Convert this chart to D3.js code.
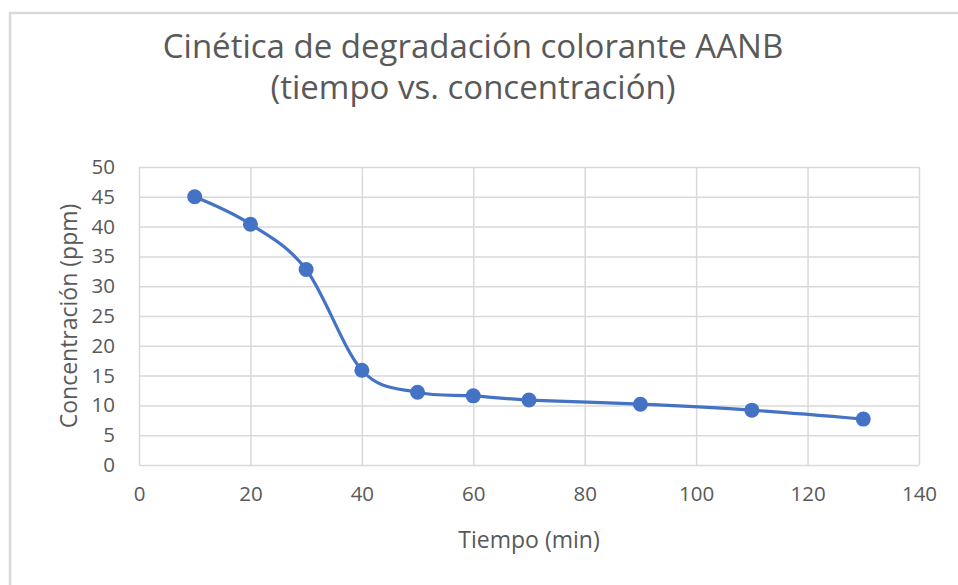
<!DOCTYPE html>
<html>
<head>
<meta charset="utf-8">
<script src="https://cdn.jsdelivr.net/npm/d3@7"></script>
<style>
  html, body { margin: 0; padding: 0; background: #fff; }
  svg { display: block; }
  text { font-family: "Open Sans", "Noto Sans", sans-serif; fill: #595959; }
</style>
</head>
<body>
<svg id="chart" width="958" height="585"></svg>
<script>
// Degradation kinetics: time (min) vs. concentration (ppm)
const tiempo = [10, 20, 30, 40, 50, 60, 70, 90, 110, 130];
const concentracion = [45.0, 40.4, 32.8, 15.9, 12.2, 11.6, 10.9, 10.2, 9.2, 7.7];
const xTicks = [0, 20, 40, 60, 80, 100, 120, 140];
const yTicks = [0, 5, 10, 15, 20, 25, 30, 35, 40, 45, 50];
const titleLines = ["Cinética de degradación colorante AANB", "(tiempo vs. concentración)"];
const xLabel = "Tiempo (min)";
const yLabel = "Concentración (ppm)";

const svg = d3.select("#chart");
const W = 958, H = 585;
const plot = { left: 139, right: 919, top: 167, bottom: 465 };
const blue = "#4472c4";
const gridColor = "#d9d9d9";
const font = "'Open Sans', 'Noto Sans', sans-serif";

// Chart frame
svg.append("rect")
  .attr("x", 10).attr("y", 13)
  .attr("width", W).attr("height", H)
  .attr("fill", "#fff")
  .attr("stroke", gridColor).attr("stroke-width", 2.5);

const x = d3.scaleLinear().domain([0, 140]).range([plot.left, plot.right]);
const y = d3.scaleLinear().domain([0, 50]).range([plot.bottom, plot.top]);

// Gridlines
svg.append("g")
  .attr("transform", `translate(0,${plot.bottom})`)
  .call(d3.axisBottom(x).tickValues(xTicks).tickSize(-(plot.bottom - plot.top)).tickFormat(""))
  .call(g => g.select(".domain").remove())
  .call(g => g.selectAll("line").attr("stroke", gridColor).attr("stroke-width", 1.5));

svg.append("g")
  .attr("transform", `translate(${plot.left},0)`)
  .call(d3.axisLeft(y).tickValues(yTicks).tickSize(-(plot.right - plot.left)).tickFormat(""))
  .call(g => g.select(".domain").remove())
  .call(g => g.selectAll("line").attr("stroke", gridColor).attr("stroke-width", 1.5));

// Tick labels
svg.append("g")
  .attr("transform", `translate(0,${plot.bottom})`)
  .call(d3.axisBottom(x).tickValues(xTicks).tickSize(0).tickPadding(21))
  .call(g => g.select(".domain").remove())
  .call(g => g.selectAll("text").attr("font-size", 20.5).style("font-family", font).attr("fill", "#595959"));

svg.append("g")
  .attr("transform", `translate(${plot.left},0)`)
  .call(d3.axisLeft(y).tickValues(yTicks).tickSize(0).tickPadding(24))
  .call(g => g.select(".domain").remove())
  .call(g => g.selectAll("text").attr("font-size", 20.5).style("font-family", font).attr("fill", "#595959").attr("text-anchor", "end"));

// Axis titles
svg.append("text")
  .attr("x", 529)
  .attr("y", 548)
  .attr("text-anchor", "middle")
  .attr("font-size", 23)
  .text(xLabel);

svg.append("text")
  .attr("transform", `translate(77,${(plot.top + plot.bottom) / 2}) rotate(-90)`)
  .attr("text-anchor", "middle")
  .attr("font-size", 23)
  .text(yLabel);

// Title
svg.append("g").selectAll("text")
  .data(titleLines)
  .join("text")
  .attr("x", 473)
  .attr("y", (d, i) => 58 + i * 41)
  .attr("text-anchor", "middle")
  .attr("font-size", 33)
  .text(d => d);

// Smoothed series line
const pts = tiempo.map((t, i) => [t, concentracion[i]]);
svg.append("path")
  .datum(pts)
  .attr("fill", "none")
  .attr("stroke", blue)
  .attr("stroke-width", 3.2)
  .attr("d", d3.line().x(d => x(d[0])).y(d => y(d[1])).curve(d3.curveCardinal.tension(0)));

// Markers
svg.append("g").selectAll("circle")
  .data(pts)
  .join("circle")
  .attr("cx", d => x(d[0]))
  .attr("cy", d => y(d[1]))
  .attr("r", 7.5)
  .attr("fill", blue);
</script>
</body>
</html>
